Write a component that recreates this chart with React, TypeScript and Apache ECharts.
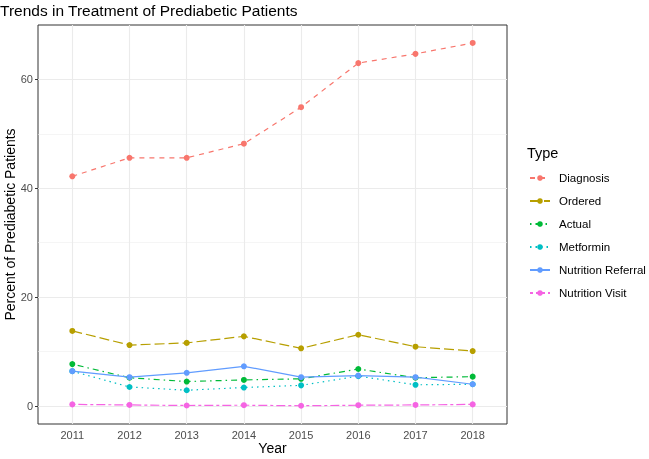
import React, { useEffect, useRef } from "react";
import * as echarts from "echarts";

const years = [2011, 2012, 2013, 2014, 2015, 2016, 2017, 2018];
const seriesNames = ["Diagnosis", "Ordered", "Actual", "Metformin", "Nutrition Referral", "Nutrition Visit"];
const diagnosis = [42.2, 45.6, 45.6, 48.2, 54.9, 63.0, 64.7, 66.7];
const ordered = [13.8, 11.2, 11.6, 12.8, 10.6, 13.1, 10.9, 10.1];
const actual = [7.7, 5.2, 4.5, 4.8, 5.0, 6.8, 5.2, 5.4];
const metformin = [6.4, 3.5, 2.9, 3.4, 3.8, 5.5, 3.9, 4.0];
const nutritionReferral = [6.4, 5.3, 6.1, 7.3, 5.3, 5.6, 5.3, 4.0];
const nutritionVisit = [0.3, 0.2, 0.1, 0.15, 0.05, 0.15, 0.2, 0.3];
const yTicks = [0, 20, 40, 60];
const yMinorTicks = [10, 30, 50];

const colors = ["#F8766D", "#B79F00", "#00BA38", "#00BFC4", "#619CFF", "#F564E3"];
const dashes: any[] = [[5, 5], [10, 4], [1.5, 4, 6, 4], [1.5, 4], "solid", [3, 3, 9, 3]];

export default function App() {
  const ref = useRef<HTMLDivElement>(null);
  useEffect(() => {
    const chart = echarts.init(ref.current!, null, { renderer: "svg" });
    const values = [diagnosis, ordered, actual, metformin, nutritionReferral, nutritionVisit];
    const font = "Liberation Sans, Arial, sans-serif";
    const gridLines: any[] = [
      ...yTicks.map((v) => ({ yAxis: v, lineStyle: { color: "#EBEBEB", width: 1.1, type: "solid" } })),
      ...yMinorTicks.map((v) => ({ yAxis: v, lineStyle: { color: "#EFEFEF", width: 0.6, type: "solid" } })),
      ...years.map((v) => ({ xAxis: v, lineStyle: { color: "#EBEBEB", width: 1.1, type: "solid" } })),
    ];
    const series: any[] = [
      {
        type: "line",
        name: "__grid",
        data: [[years[0], 0]],
        symbol: "none",
        lineStyle: { opacity: 0 },
        silent: true,
        z: 1,
        markLine: {
          silent: true,
          symbol: "none",
          label: { show: false },
          z: 1,
          animation: false,
          data: gridLines,
        },
      },
      ...seriesNames.map((name, i) => ({
        type: "line",
        name,
        data: years.map((y, j) => [y, values[i][j]]),
        symbol: "circle",
        symbolSize: 6,
        z: 3,
        itemStyle: { color: colors[i] },
        lineStyle: { color: colors[i], width: 1.2, type: dashes[i] },
      })),
    ];
    chart.setOption({
      animation: false,
      textStyle: { fontFamily: font },
      title: {
        text: "Trends in Treatment of Prediabetic Patients",
        left: 0,
        top: 2,
        padding: 0,
        textStyle: { fontSize: 15.5, fontWeight: "normal", color: "#000", fontFamily: font },
      },
      grid: {
        left: 38,
        right: 142,
        top: 25,
        bottom: 35,
        outerBoundsMode: "none",
        containLabel: false,
        show: true,
        borderColor: "#333333",
        borderWidth: 1,
        backgroundColor: "transparent",
      },
      xAxis: {
        type: "value",
        min: 2010.4,
        max: 2018.6,
        name: "Year",
        nameLocation: "middle",
        nameGap: 17,
        nameMoveOverlap: false,
        nameTextStyle: { fontSize: 14, color: "#000", fontFamily: font },
        axisLine: { show: false },
        splitLine: { show: false },
        axisTick: { show: true, length: 3, lineStyle: { color: "#333333" }, customValues: years },
        axisLabel: {
          customValues: years,
          color: "#4D4D4D",
          fontSize: 11,
          margin: 5,
          formatter: (v: number) => String(v),
        },
      },
      yAxis: {
        type: "value",
        min: -3.3,
        max: 70,
        name: "Percent of Prediabetic Patients",
        nameLocation: "middle",
        nameGap: 21,
        nameMoveOverlap: false,
        nameTextStyle: { fontSize: 14, color: "#000", fontFamily: font },
        axisLine: { show: false },
        splitLine: { show: false },
        axisTick: { show: true, length: 3, lineStyle: { color: "#333333" }, customValues: yTicks },
        axisLabel: {
          customValues: yTicks,
          color: "#4D4D4D",
          fontSize: 11,
          margin: 5,
          formatter: (v: number) => String(v),
        },
      },
      legend: {
        data: seriesNames,
        orient: "vertical",
        left: 529,
        top: 172,
        padding: 0,
        itemWidth: 20,
        itemHeight: 7,
        itemGap: 11,
        textStyle: { fontSize: 11.5, color: "#000", fontFamily: font, padding: [0, 0, 0, 4] },
      },
      graphic: [
        {
          type: "text",
          left: 527,
          top: 145,
          style: { text: "Type", fontSize: 14.5, fill: "#000", fontFamily: font },
        },
      ],
      series,
    });
    return () => chart.dispose();
  }, []);
  return (
    <div
      ref={ref}
      style={{ position: "fixed", left: 0, top: 0, width: 649, height: 459 }}
    />
  );
}
